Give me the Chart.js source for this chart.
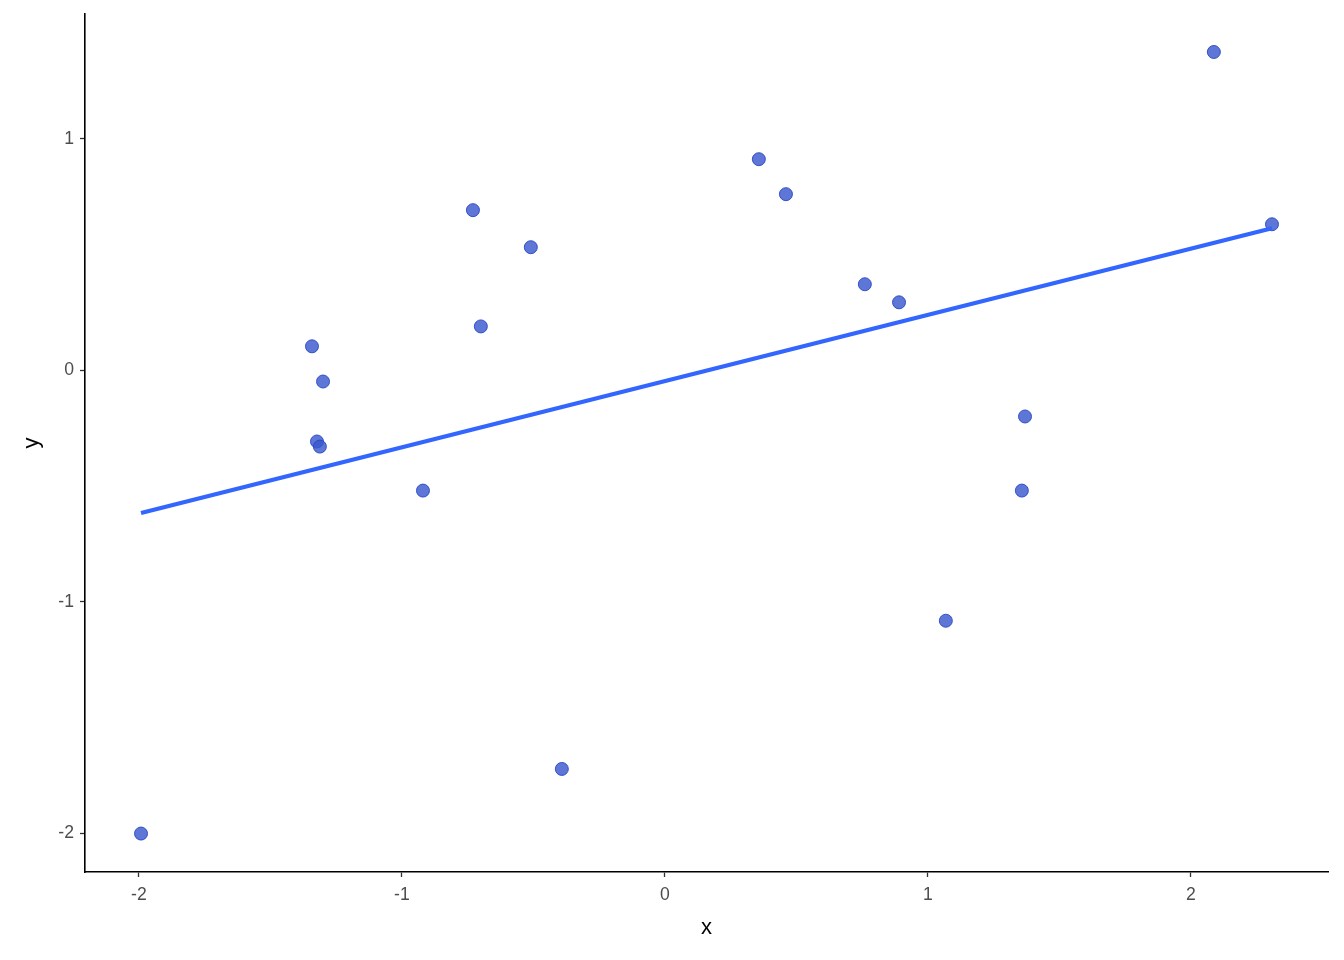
<!DOCTYPE html>
<html>
<head>
<meta charset="utf-8">
<script src="https://cdn.jsdelivr.net/npm/chart.js@4/dist/chart.umd.min.js"></script>
<style>
  html, body { margin: 0; padding: 0; background: #fff; }
  #wrap { width: 1344px; height: 960px; }
</style>
</head>
<body>
<div id="wrap"><canvas id="c" width="1344" height="960"></canvas></div>
<script>
const xValues = [-1.992, -1.342, -1.300, -1.323, -1.312, -0.920, -0.730, -0.700, -0.510, -0.392, 0.357, 0.460, 0.760, 0.890, 1.068, 1.369, 1.357, 2.087, 2.308];
const yValues = [-2.000, 0.104, -0.048, -0.307, -0.329, -0.519, 0.692, 0.190, 0.532, -1.721, 0.912, 0.761, 0.372, 0.294, -1.081, -0.199, -0.519, 1.375, 0.631];
const fitX = [-1.992, 2.308];
const fitY = [-0.616, 0.614];
const xTicks = [-2, -1, 0, 1, 2];
const yTicks = [-2, -1, 0, 1];

const points = xValues.map((x, i) => ({ x: x, y: yValues[i] }));
const fit = fitX.map((x, i) => ({ x: x, y: fitY[i] }));

const font = "'Liberation Sans', Arial, sans-serif";

new Chart(document.getElementById('c'), {
  type: 'scatter',
  data: {
    datasets: [
      {
        data: fit,
        showLine: true,
        borderColor: '#3366FF',
        borderWidth: 4.2,
        pointRadius: 0,
        fill: false,
        order: 0
      },
      {
        data: points,
        pointRadius: 6.5,
        pointBackgroundColor: 'rgba(58, 88, 205, 0.82)',
        pointBorderColor: 'rgba(40, 70, 200, 0.9)',
        pointBorderWidth: 1,
        order: 1
      }
    ]
  },
  options: {
    responsive: false,
    animation: false,
    devicePixelRatio: 1,
    layout: { padding: { top: 14, right: 16, left: 0, bottom: 0 } },
    plugins: { legend: { display: false }, tooltip: { enabled: false } },
    scales: {
      x: {
        type: 'linear',
        min: -2.205,
        max: 2.521,
        afterBuildTicks: (s) => { s.ticks = xTicks.map(v => ({ value: v })); },
        afterFit: (s) => { s.height = 88; s.paddingLeft = 0; s.paddingRight = 0; },
        grid: { drawOnChartArea: false, drawTicks: true, tickLength: 5, color: '#333333', tickWidth: 1.3 },
        border: { display: true, color: '#000000', width: 1.6 },
        ticks: { color: '#4D4D4D', font: { family: font, size: 17.6 }, padding: 8, autoSkip: false, maxRotation: 0,
                 callback: (v) => String(v) },
        title: { display: true, text: 'x', color: '#000000', font: { family: font, size: 22 }, padding: { top: 4, bottom: 18.8 } }
      },
      y: {
        type: 'linear',
        min: -2.166,
        max: 1.539,
        afterBuildTicks: (s) => { s.ticks = yTicks.map(v => ({ value: v })); },
        afterFit: (s) => { s.width = 85; s.paddingTop = 0; s.paddingBottom = 0; },
        grid: { drawOnChartArea: false, drawTicks: true, tickLength: 5, color: '#333333', tickWidth: 1.3 },
        border: { display: true, color: '#000000', width: 1.6 },
        ticks: { color: '#4D4D4D', font: { family: font, size: 17.6 }, padding: 6, autoSkip: false,
                 callback: (v) => String(v) },
        title: { display: true, text: 'y', color: '#000000', font: { family: font, size: 22 }, padding: { top: 18.8, bottom: 4 } }
      }
    }
  }
});
</script>
</body>
</html>
